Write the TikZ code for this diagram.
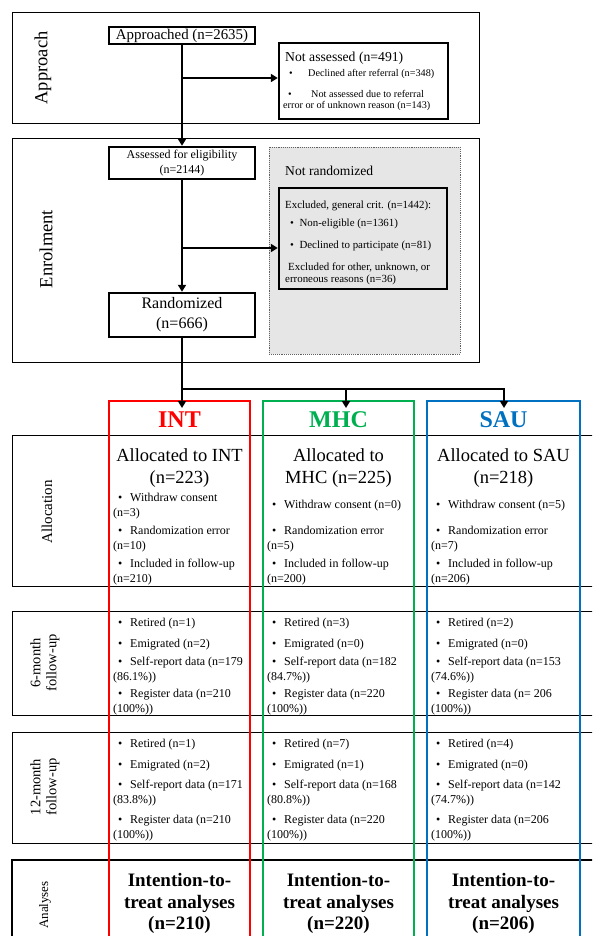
\documentclass[tikz,border=0pt]{standalone}
\usepackage{fontspec}
\setmainfont{Liberation Serif}
\usetikzlibrary{arrows.meta,calc}
\definecolor{intred}{HTML}{FF0000}
\definecolor{mhcgreen}{HTML}{00B050}
\definecolor{saublue}{HTML}{0070C0}
\definecolor{greyfill}{HTML}{E6E6E6}
\newcommand{\setfs}[2]{\fontsize{#1}{#2}\selectfont}
\newcommand{\itembul}{\hspace*{5pt}\textbullet\hspace*{7.8pt}}

\begin{document}
\begin{tikzpicture}[
    x=1pt, y=-1pt,
    phase/.style={rotate=90, font=\setfs{18.5}{20}},
    rowlabel/.style={rotate=90, align=center, font=\setfs{14.5}{16}},
    stagebox/.style={draw, line width=0.9pt},
    flowbox/.style={draw, line width=2.4pt, inner sep=0pt, minimum width=146pt, align=center},
    trunk/.style={line width=2.5pt},
    flow/.style={line width=2.5pt, -{Triangle[length=7pt,width=8pt]}},
    cell/.style={anchor=north west, align=left, inner sep=0pt, font=\setfs{12}{15}},
    armbox/.style={line width=2pt},
    armhead/.style={font=\bfseries\setfs{24}{26}},
    allocated/.style={align=center, inner sep=0pt, font=\setfs{18.5}{22}},
    itt/.style={align=center, inner sep=0pt, font=\bfseries\setfs{19}{21.5}}
]
    \useasboundingbox (0,0) rectangle (592,936);
    \clip (0,0) rectangle (592,936);

    % 1. Fase di approccio
    \draw[stagebox] (12,12) rectangle (479,123);
    \node[phase] (approachlab) at (43,68) {Approach};
    \node[flowbox, minimum height=17pt, font=\setfs{14.9}{16}] (approached) at (182,35.5) {Approached (n=2635)};
    \node[draw, line width=2.4pt, minimum width=169pt, minimum height=76pt] (notassessed) at (363.5,81) {};
    \node[anchor=north west, align=left, inner sep=0pt, font=\setfs{10.2}{11}] (natext) at (285,52) {
        {\setfs{13.7}{15}Not assessed (n=491)}\\[4pt]
        \hspace*{4pt}\textbullet\hspace*{15.4pt}Declined after referral (n=348)\\[10pt]
        \hspace*{3pt}\textbullet\hspace*{19.4pt}Not assessed due to referral\\
        \hspace*{-2pt}error or of unknown reason (n=143)
    };

    % 2. Fase di arruolamento
    \draw[stagebox] (12,138) rectangle (479,362);
    \node[phase] (enrollab) at (46,249) {Enrolment};
    \draw[fill=greyfill, draw=gray!75!black, densely dotted, line width=0.9pt] (269,147) rectangle (460,354);
    \node[anchor=base west, inner sep=0pt, font=\setfs{13.6}{15}] (notrand) at (285,175.5) {Not randomized};
    \node[flowbox, minimum height=32pt, font=\setfs{12}{15.5}] (assessed) at (182,163) {Assessed for eligibility\\(n=2144)};
    \node[flowbox, minimum height=44pt, font=\setfs{16}{20}] (randomized) at (182,315) {Randomized\\(n=666)};
    \node[draw, line width=2.4pt, minimum width=168pt, minimum height=101pt] (excluded) at (363,238.5) {};
    \node[anchor=north west, align=left, inner sep=0pt, font=\setfs{10.9}{12}] (extext) at (285,201) {
        Excluded, general crit. (n=1442):\\[6pt]
        \hspace*{5pt}\textbullet\hspace*{5.5pt}Non-eligible (n=1361)\\[10pt]
        \hspace*{5pt}\textbullet\hspace*{5.5pt}Declined to participate (n=81)\\[10pt]
        \hspace*{3pt}Excluded for other, unknown, or\\
        erroneous reasons (n=36)
    };

    % 3. Frecce del flusso principale
    \coordinate (br1) at (182,78);
    \coordinate (br2) at (182,248);
    \draw[flow] (approached.south) -- (assessed.north);
    \draw[flow] (br1) -- (br1 -| notassessed.west);
    \draw[flow] (assessed.south) -- (randomized.north);
    \draw[flow] (br2) -- (br2 -| excluded.west);

    % =========================================================================
    % RIGHE DEL FOLLOW-UP
    % =========================================================================
    \draw[stagebox] (12,435) rectangle (620,586);
    \draw[stagebox] (12,611) rectangle (620,715);
    \draw[stagebox] (12,732) rectangle (620,843);
    \draw[line width=2.2pt] (12,860) rectangle (620,960);
    \node[rowlabel, font=\setfs{15}{16}] (alloclab) at (47,512) {Allocation};
    \node[rowlabel] (sixlab) at (45,663) {6-month\\follow-up};
    \node[rowlabel] (twelvelab) at (45,787) {12-month\\follow-up};
    \node[rowlabel, font=\setfs{13}{14}] (analyslab) at (45,905) {Analyses};

    % --- Colonne dei bracci ---
    \draw[armbox, draw=intred] (109,401) rectangle (250,960);
    \draw[armbox, draw=mhcgreen] (263,401) rectangle (414,960);
    \draw[armbox, draw=saublue] (427,401) rectangle (580,960);
    \node[armhead, text=intred] (inthead) at (179.5,420) {INT};
    \node[armhead, text=mhcgreen] (mhchead) at (338.5,420) {MHC};
    \node[armhead, text=saublue] (sauhead) at (503.5,420) {SAU};

    % --- Randomizzazione verso i bracci ---
    \coordinate (split) at (182,389);
    \coordinate (intin) at (182,408);
    \coordinate (mhcin) at (346,408);
    \coordinate (sauin) at (504,408);
    \draw[flow] (randomized.south) -- (intin);
    \draw[trunk] (split) -- (split -| mhcin);
    \draw[flow] (split -| mhcin) -- (mhcin);
    \draw[flow] (split -| mhcin) -| (sauin);

    % --- Allocazione ---
    \node[allocated] (intalloc) at (179.5,467.7) {Allocated to INT\\(n=223)};
    \node[allocated] (mhcalloc) at (338.5,467.7) {Allocated to\\MHC (n=225)};
    \node[allocated] (saualloc) at (503.5,467.7) {Allocated to SAU\\(n=218)};

    \node[cell] (intallocb) at (113,492.8) {\itembul Withdraw consent\\(n=3)\\[3pt]\itembul Randomization error\\(n=10)\\[3pt]\itembul Included in follow-up\\(n=210)};
    \node[cell] (mhcallocb) at (267,499.7) {\itembul Withdraw consent (n=0)\\[11pt]\itembul Randomization error\\(n=5)\\[3pt]\itembul Included in follow-up\\(n=200)};
    \node[cell] (sauallocb) at (431,499.7) {\itembul Withdraw consent (n=5)\\[11pt]\itembul Randomization error\\(n=7)\\[3pt]\itembul Included in follow-up\\(n=206)};

    % --- Follow-up a 6 mesi ---
    \node[cell] (intsix) at (113,617.7) {\itembul Retired (n=1)\\[6pt]\itembul Emigrated (n=2)\\[3pt]\itembul Self-report data (n=179\\(86.1\%))\\[2pt]\itembul Register data (n=210\\(100\%))};
    \node[cell] (mhcsix) at (267,617.7) {\itembul Retired (n=3)\\[6pt]\itembul Emigrated (n=0)\\[3pt]\itembul Self-report data (n=182\\(84.7\%))\\[2pt]\itembul Register data (n=220\\(100\%))};
    \node[cell] (sausix) at (431,617.7) {\itembul Retired (n=2)\\[6pt]\itembul Emigrated (n=0)\\[3pt]\itembul Self-report data (n=153\\(74.6\%))\\[2pt]\itembul Register data (n= 206\\(100\%))};

    % --- Follow-up a 12 mesi ---
    \node[cell] (inttwelve) at (113,738.7) {\itembul Retired (n=1)\\[6pt]\itembul Emigrated (n=2)\\[5pt]\itembul Self-report data (n=171\\(83.8\%))\\[5pt]\itembul Register data (n=210\\(100\%))};
    \node[cell] (mhctwelve) at (267,738.7) {\itembul Retired (n=7)\\[6pt]\itembul Emigrated (n=1)\\[5pt]\itembul Self-report data (n=168\\(80.8\%))\\[5pt]\itembul Register data (n=220\\(100\%))};
    \node[cell] (sautwelve) at (431,738.7) {\itembul Retired (n=4)\\[6pt]\itembul Emigrated (n=0)\\[5pt]\itembul Self-report data (n=142\\(74.7\%))\\[5pt]\itembul Register data (n=206\\(100\%))};

    % --- Analisi intention-to-treat ---
    \node[itt] (intitt) at (179.5,903.5) {Intention-to-\\treat analyses\\(n=210)};
    \node[itt] (mhcitt) at (338.5,903.5) {Intention-to-\\treat analyses\\(n=220)};
    \node[itt] (sauitt) at (503.5,903.5) {Intention-to-\\treat analyses\\(n=206)};

\end{tikzpicture}
\end{document}
